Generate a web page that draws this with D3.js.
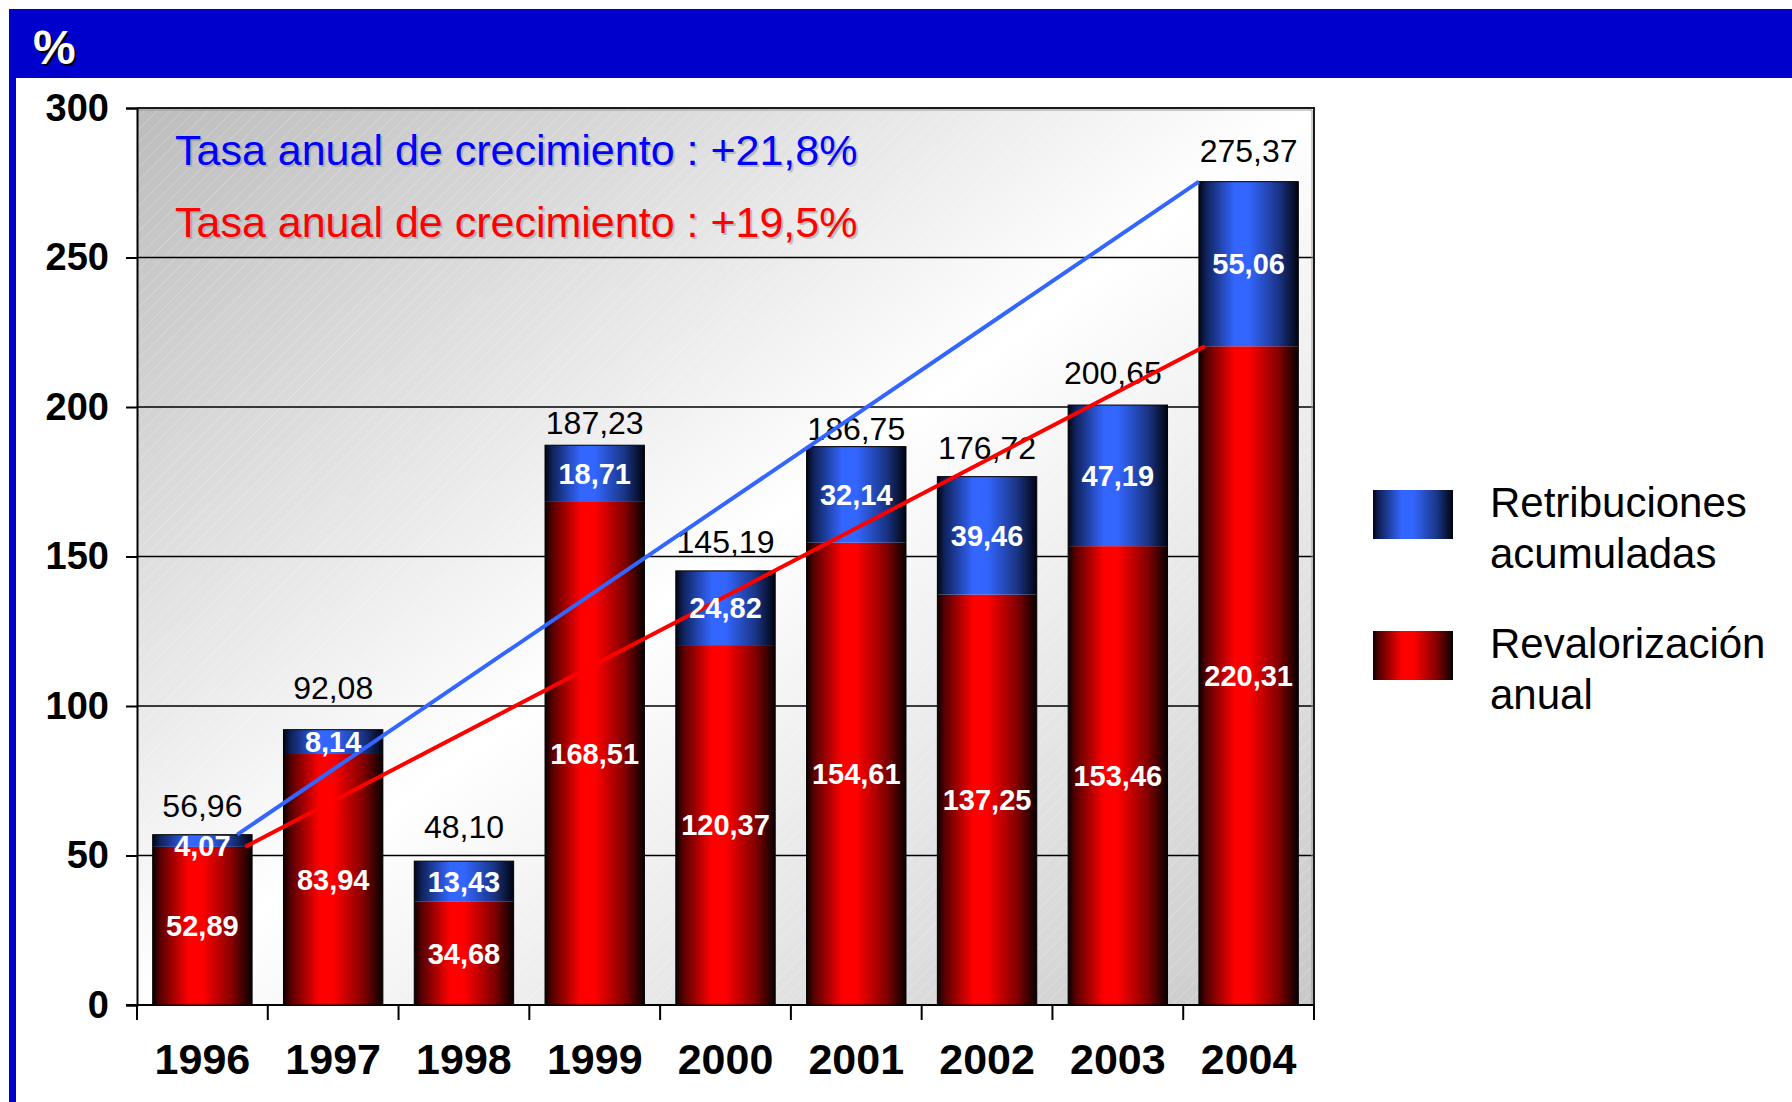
<!DOCTYPE html>
<html>
<head>
<meta charset="utf-8">
<script src="https://cdn.jsdelivr.net/npm/d3@7/dist/d3.min.js"></script>
<style>
  html, body { margin: 0; padding: 0; background: #ffffff; }
  svg { display: block; }
  text { font-family: "Liberation Sans", Arial, Helvetica, sans-serif; }
</style>
</head>
<body>
<svg id="chart" width="1792" height="1102"></svg>
<script>
// Years shown on the category axis
const years = ["1996", "1997", "1998", "1999", "2000", "2001", "2002", "2003", "2004"];
// Annual revaluation (lower, red segment)
const revalorizacion = [52.89, 83.94, 34.68, 168.51, 120.37, 154.61, 137.25, 153.46, 220.31];
// Accumulated dividends (upper, blue segment)
const retribuciones = [4.07, 8.14, 13.43, 18.71, 24.82, 32.14, 39.46, 47.19, 55.06];
// Totals printed above each column
const totales = [56.96, 92.08, 48.10, 187.23, 145.19, 186.75, 176.72, 200.65, 275.37];
// Value axis ticks
const yTicks = [0, 50, 100, 150, 200, 250, 300];
// Growth-rate captions
const tasas = ["Tasa anual de crecimiento : +21,8%", "Tasa anual de crecimiento : +19,5%"];
const legendLabels = [["Retribuciones", "acumuladas"], ["Revalorización", "anual"]];

const fmt = v => v.toFixed(2).replace(".", ",");

const svg = d3.select("#chart");
const defs = svg.append("defs");

// Horizontal "cylinder" gradients for the columns
function barGradient(id, dark0, mid, dark1) {
  const g = defs.append("linearGradient").attr("id", id)
    .attr("x1", "0%").attr("y1", "0%").attr("x2", "100%").attr("y2", "0%");
  [[0, dark0], [0.07, d3.interpolateRgb(dark0, mid)(0.3)], [0.36, mid], [0.5, mid],
   [0.8, d3.interpolateRgb(mid, dark1)(0.5)], [1, dark1]]
    .forEach(([o, c]) => g.append("stop").attr("offset", o).attr("stop-color", c));
}
barGradient("gRed", "#0a0000", "#ff0000", "#080000");
barGradient("gBlue", "#000412", "#3366ff", "#00030f");

// Plot background: grey corners, white across the diagonal
const bg = defs.append("linearGradient").attr("id", "gPlot")
  .attr("x1", "0").attr("y1", "0").attr("x2", "1").attr("y2", "1");
[[0, "#bcbcbc"], [0.5, "#ffffff"], [1, "#c8c8c8"]]
  .forEach(([o, c]) => bg.append("stop").attr("offset", o).attr("stop-color", c));

const hatch = defs.append("pattern").attr("id", "hatch")
  .attr("patternUnits", "userSpaceOnUse").attr("width", 9).attr("height", 9)
  .attr("patternTransform", "rotate(45)");
hatch.append("line").attr("x1", 0).attr("y1", 0).attr("x2", 0).attr("y2", 9)
  .attr("stroke", "#ffffff").attr("stroke-width", 1).attr("stroke-opacity", 0.4);

// Header band and left rule
svg.append("rect").attr("x", 9).attr("y", 9).attr("width", 1783).attr("height", 69).attr("fill", "#0000cc");
svg.append("rect").attr("x", 9).attr("y", 9).attr("width", 7).attr("height", 1093).attr("fill", "#0000cc");
svg.append("text").attr("x", 35).attr("y", 66).attr("font-size", 48).attr("font-weight", "bold")
  .attr("fill", "#000").text("%");
svg.append("text").attr("x", 33).attr("y", 64).attr("font-size", 48).attr("font-weight", "bold")
  .attr("fill", "#fff").text("%");

// Plot geometry
const plotL = 137, plotR = 1314, plotT = 108, plotB = 1005;

const x = d3.scaleBand().domain(years).range([plotL, plotR]).paddingInner(0.24).paddingOuter(0.12);
const y = d3.scaleLinear().domain([0, 300]).range([plotB, plotT]);
const step = x.step(), bw = x.bandwidth();

// Background
svg.append("rect").attr("x", plotL).attr("y", plotT).attr("width", plotR - plotL).attr("height", plotB - plotT)
  .attr("fill", "url(#gPlot)");
svg.append("rect").attr("x", plotL).attr("y", plotT).attr("width", plotR - plotL).attr("height", plotB - plotT)
  .attr("fill", "url(#hatch)");

// Gridlines
svg.append("g").selectAll("line").data(yTicks.filter(d => d > 0)).join("line")
  .attr("x1", plotL).attr("x2", plotR).attr("y1", d => y(d)).attr("y2", d => y(d))
  .attr("stroke", "#000").attr("stroke-width", 1.6);

// Frame: top and right edges
svg.append("path")
  .attr("d", `M${plotL},${plotT}H${plotR}V${plotB}`)
  .attr("fill", "none").attr("stroke", "#1a1a1a").attr("stroke-width", 2);
svg.append("path")
  .attr("d", `M${plotL},${plotT + 2}H${plotR - 2}V${plotB}`)
  .attr("fill", "none").attr("stroke", "#9a9a9a").attr("stroke-width", 1);

// Value axis
const yAxis = d3.axisLeft(y).tickValues(yTicks).tickSize(11).tickPadding(17).tickFormat(d3.format("d"));
const gy = svg.append("g").attr("transform", `translate(${plotL},0)`).call(yAxis);
gy.select(".domain").attr("stroke", "#000").attr("stroke-width", 2);
gy.selectAll(".tick line").attr("stroke", "#000").attr("stroke-width", 2);
gy.selectAll(".tick text").attr("font-size", 38).attr("font-weight", "bold").attr("fill", "#000")
  .attr("font-family", "Liberation Sans, Arial, sans-serif");

// Category axis with ticks between columns
const gx = svg.append("g").attr("transform", `translate(0,${plotB})`)
  .call(d3.axisBottom(x).tickSize(0).tickPadding(0));
gx.select(".domain").attr("stroke", "#000").attr("stroke-width", 2).attr("d", `M${plotL - 11},0H${plotR}`);
gx.selectAll(".tick text").attr("font-size", 43).attr("font-weight", "bold").attr("fill", "#000")
  .attr("dy", 0).attr("y", 69).attr("font-family", "Liberation Sans, Arial, sans-serif");
const bounds = years.map(yr => x(yr) - x.paddingInner() * step / 2).concat([plotR]);
gx.append("g").selectAll("line").data(bounds).join("line")
  .attr("x1", d => d).attr("x2", d => d).attr("y1", 0).attr("y2", 15)
  .attr("stroke", "#000").attr("stroke-width", 2);

// Columns
const rows = years.map((yr, i) => ({ yr, r: revalorizacion[i], b: retribuciones[i], t: totales[i], i }));
const bars = svg.append("g");
bars.selectAll("rect.red").data(rows).join("rect").attr("class", "red")
  .attr("x", d => x(d.yr)).attr("width", bw)
  .attr("y", d => y(d.r)).attr("height", d => y(0) - y(d.r))
  .attr("fill", "url(#gRed)");
bars.selectAll("rect.blue").data(rows).join("rect").attr("class", "blue")
  .attr("x", d => x(d.yr)).attr("width", bw)
  .attr("y", d => y(d.r + d.b)).attr("height", d => y(d.r) - y(d.r + d.b))
  .attr("fill", "url(#gBlue)");
bars.selectAll("rect.edge").data(rows).join("rect").attr("class", "edge")
  .attr("x", d => x(d.yr)).attr("width", bw)
  .attr("y", d => y(d.r + d.b)).attr("height", d => y(0) - y(d.r + d.b))
  .attr("fill", "none").attr("stroke", "#000").attr("stroke-width", 1);

// Totals above each column (lift above the column top, in px)
const totalLift = [18, 31, 23, 11, 18, 7, 18, 21, 20];
svg.append("g").selectAll("text").data(rows).join("text")
  .attr("x", d => x(d.yr) + bw / 2 + (d.i === 7 ? -5 : 0))
  .attr("y", d => y(d.r + d.b) - totalLift[d.i])
  .attr("text-anchor", "middle").attr("font-size", 32).attr("fill", "#000")
  .text(d => fmt(d.t));

// Growth lines joining first and last columns
const first = rows[0], last = rows[rows.length - 1];
svg.append("line")
  .attr("x1", x(first.yr) + bw * 0.85).attr("y1", y(first.t))
  .attr("x2", x(last.yr)).attr("y2", y(last.t))
  .attr("stroke", "#3366ff").attr("stroke-width", 4);
svg.append("line")
  .attr("x1", x(first.yr) + bw * 0.93).attr("y1", y(first.r))
  .attr("x2", x(last.yr) + 6).attr("y2", y(last.r))
  .attr("stroke", "#ff0000").attr("stroke-width", 4);

// Segment values
const inner = svg.append("g").attr("font-size", 29).attr("font-weight", "bold")
  .attr("fill", "#fff").attr("text-anchor", "middle");
inner.selectAll("text.r").data(rows).join("text").attr("class", "r")
  .attr("x", d => x(d.yr) + bw / 2).attr("y", d => y(d.r / 2)).attr("dy", "0.36em")
  .text(d => fmt(d.r));
inner.selectAll("text.b").data(rows).join("text").attr("class", "b")
  .attr("x", d => x(d.yr) + bw / 2).attr("y", d => y(d.r + d.b / 2) + (d.b < 6 ? 5 : 0)).attr("dy", "0.36em")
  .text(d => fmt(d.b));

// Growth-rate captions with soft shadow
const capColors = ["#0000ff", "#ff0000"];
tasas.forEach((t, i) => {
  const yy = 165 + i * 72;
  svg.append("text").attr("x", 177).attr("y", yy + 2).attr("font-size", 43)
    .attr("fill", "#8a8a8a").attr("fill-opacity", 0.45).text(t);
  svg.append("text").attr("x", 175).attr("y", yy).attr("font-size", 43)
    .attr("fill", capColors[i]).text(t);
});

// Legend
const legend = svg.append("g");
const swatches = ["url(#gBlue)", "url(#gRed)"];
legendLabels.forEach((lines, i) => {
  const top0 = 490 + i * 141;
  legend.append("rect").attr("x", 1373).attr("y", top0).attr("width", 80).attr("height", 49)
    .attr("fill", swatches[i]);
  lines.forEach((ln, j) => {
    legend.append("text").attr("x", 1490).attr("y", top0 + 27 + j * 51)
      .attr("font-size", 42).attr("fill", "#000").text(ln);
  });
});
</script>
</body>
</html>
